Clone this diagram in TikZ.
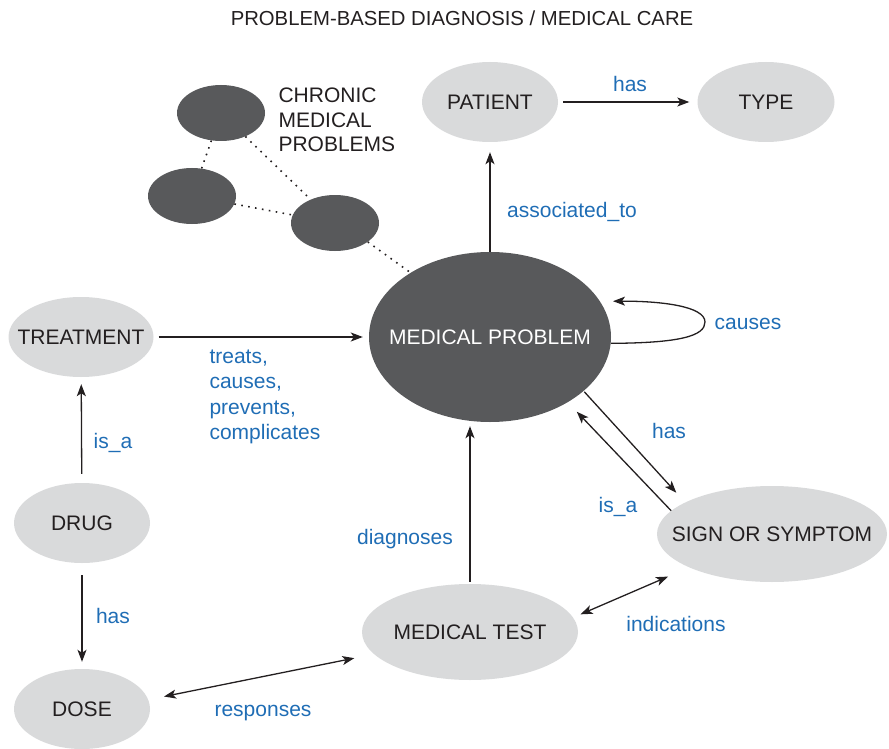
\documentclass[tikz,border=0pt]{standalone}
\usepackage{fontspec}
\setmainfont{Liberation Sans}
\usetikzlibrary{shapes.geometric,arrows.meta}
\definecolor{nodegrey}{HTML}{D9DADB}
\definecolor{darkfill}{HTML}{58595B}
\definecolor{linkblue}{HTML}{1F6DB5}
\definecolor{inkblack}{HTML}{231F20}

\begin{document}
\begin{tikzpicture}[x=1pt,y=-1pt,
  every node/.style={font=\fontsize{21}{25}\selectfont, text=inkblack},
  concept/.style={ellipse, fill=nodegrey, inner sep=0pt},
  core/.style={ellipse, fill=darkfill, inner sep=0pt},
  chronic/.style={ellipse, fill=darkfill, minimum width=88pt, minimum height=56pt, inner sep=0pt},
  rel/.style={text=linkblue},
  arr/.style={draw=inkblack, line width=1.3pt, -{Stealth[length=12pt,width=9pt,inset=3pt]}},
  biarr/.style={draw=inkblack, line width=1.3pt, {Stealth[length=12pt,width=9pt,inset=3pt]}-{Stealth[length=12pt,width=9pt,inset=3pt]}},
  dots/.style={draw=inkblack, line width=1.6pt, dash pattern=on 1.6pt off 5.4pt},
]
\useasboundingbox (0,0) rectangle (889,749);

% title
\node[font=\fontsize{20.3}{24}\selectfont] (title) at (462,18) {PROBLEM-BASED DIAGNOSIS / MEDICAL CARE};

% concept ellipses
\node[concept, minimum width=136pt, minimum height=80pt, label=center:PATIENT] (patient) at (490,102) {};
\node[concept, minimum width=137pt, minimum height=80pt, label=center:TYPE] (type) at (766,102) {};
\node[concept, minimum width=145pt, minimum height=80pt, label=center:TREATMENT] (treatment) at (81,337) {};
\node[concept, minimum width=136pt, minimum height=80pt, label=center:DRUG] (drug) at (82,523) {};
\node[concept, minimum width=136pt, minimum height=80pt, label=center:DOSE] (dose) at (82,709) {};
\node[concept, minimum width=216pt, minimum height=96pt, label=center:MEDICAL TEST] (test) at (470,632) {};
\node[concept, minimum width=230pt, minimum height=96pt, label=center:SIGN OR SYMPTOM] (ss) at (772,534) {};
\node[core, minimum width=242pt, minimum height=170pt, label={[text=white]center:MEDICAL PROBLEM}] (mp) at (490,337) {};

% chronic medical problems cluster
\node[chronic] (c1) at (221,113) {};
\node[chronic] (c2) at (192,196) {};
\node[chronic] (c3) at (335,223) {};
\node[anchor=west, align=left, font=\fontsize{21}{24.5}\selectfont] (chronic-label) at (275,120) {CHRONIC\\MEDICAL\\PROBLEMS};
\draw[dots] (c1) -- (c2);
\draw[dots] (c1) -- (c3);
\draw[dots] (c2) -- (c3);
\draw[dots] (c3.-30) -- (mp.141);

% relations
\draw[arr, shorten >=10pt] (mp) -- (patient);
\draw[arr, shorten <=5pt, shorten >=8pt] (patient) -- (type);
\draw[arr, shorten <=5pt, shorten >=6pt] (treatment) -- (mp);
\draw[arr, shorten <=9pt, shorten >=7pt] (drug) -- (treatment);
\draw[arr, shorten <=12pt, shorten >=7pt] (drug) -- (dose);
\draw[biarr, shorten <=16pt, shorten >=20pt] (dose.8) -- (test.193);
\draw[arr, shorten <=2pt, shorten >=4pt] (test.north) -- (test.north |- mp.south);
\draw[biarr, shorten <=8pt, shorten >=23pt] (test.8) -- (ss.202);
\draw[arr, shorten <=1pt, shorten >=13pt] (mp.-30) -- (ss.160);
\draw[arr, shorten >=13pt] (ss.167) -- (mp.-40);
\coordinate (loopturn) at (705,322);
\draw[arr, shorten >=13pt] (mp.-3) .. controls (680,343) and (705,336) .. (loopturn)
  .. controls (705,306) and (660,301) .. (mp.18);

% relation labels
\node[rel] (l-has1) at (630,84) {has};
\node[rel] (l-assoc) at (572,212) {associated\_to};
\node[rel] (l-causes) at (748,324) {causes};
\node[rel, align=left, anchor=west, font=\fontsize{21}{25.3}\selectfont] (l-treats) at (206,397) {treats,\\causes,\\prevents,\\complicates};
\node[rel] (l-isa1) at (113,443) {is\_a};
\node[rel] (l-has2) at (113,616) {has};
\node[rel] (l-resp) at (263,713) {responses};
\node[rel] (l-diag) at (405,539) {diagnoses};
\node[rel] (l-ind) at (676,624) {indications};
\node[rel] (l-has3) at (669,431) {has};
\node[rel] (l-isa2) at (618,507) {is\_a};
\end{tikzpicture}
\end{document}
